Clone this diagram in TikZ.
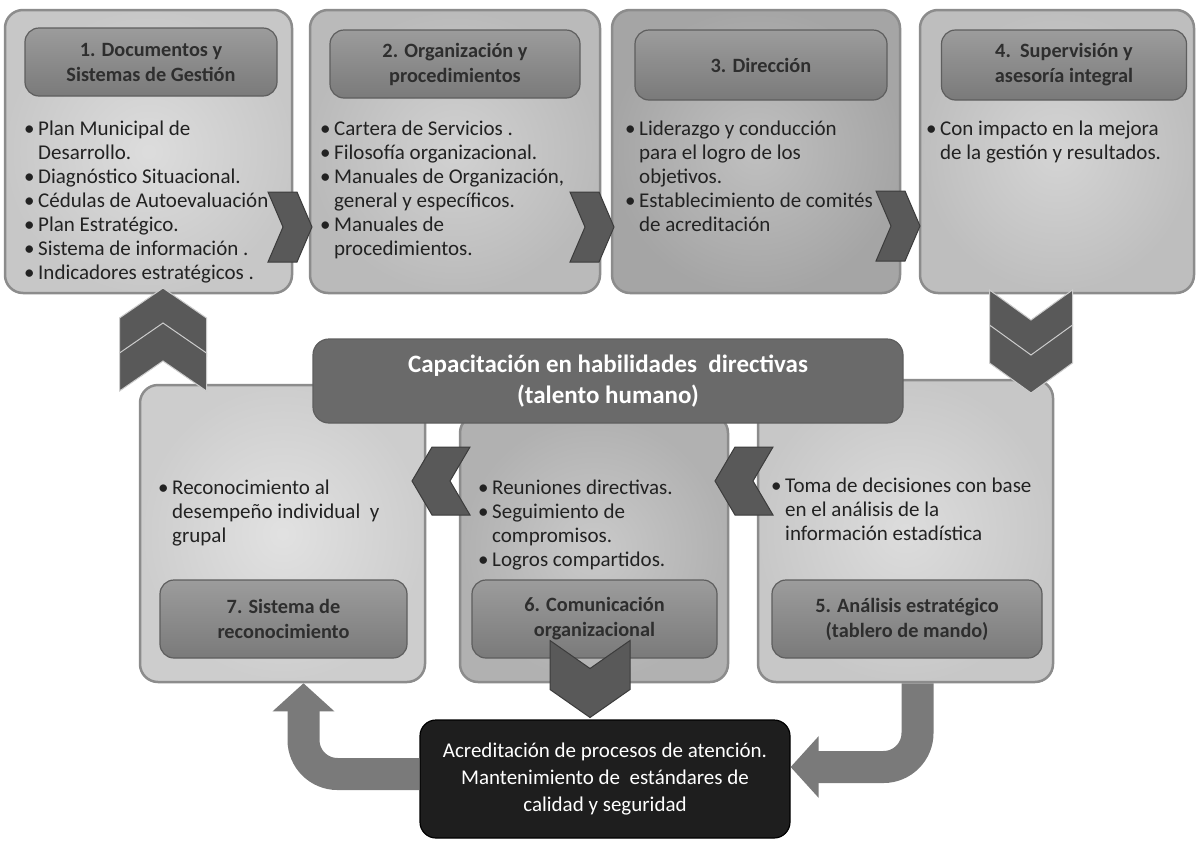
\documentclass[tikz,border=0pt]{standalone}
\usepackage{fontspec}
\setmainfont{Carlito}
\usetikzlibrary{arrows.meta,calc}

\definecolor{panelA}{HTML}{D4D4D4}
\definecolor{panelB}{HTML}{C6C6C6}
\definecolor{panelC}{HTML}{B0B0B0}
\definecolor{panelD}{HTML}{CACACA}
\definecolor{panelE}{HTML}{DADADA}
\definecolor{panelF}{HTML}{BCBCBC}
\definecolor{panelG}{HTML}{D4D4D4}
\definecolor{edgegray}{HTML}{8C8C8C}
\definecolor{headtop}{HTML}{9C9C9C}
\definecolor{headbot}{HTML}{7A7A7A}
\definecolor{headedge}{HTML}{5E5E5E}
\definecolor{headtext}{HTML}{2E2E2E}
\definecolor{bodytext}{HTML}{222222}
\definecolor{bannergray}{HTML}{6A6A6A}
\definecolor{chevgray}{HTML}{595959}
\definecolor{chevedge}{HTML}{3C3C3C}
\definecolor{arrowgray}{HTML}{7A7A7A}
\definecolor{accblack}{HTML}{1E1E1E}

\newcommand{\bul}{\strut\makebox[14pt][l]{\textbullet}}
\newcommand{\sig}{\strut\hspace*{14pt}}

\tikzset{
  chevlen/.store in=\chevlen, chevwid/.store in=\chevwid, chevcut/.store in=\chevcut,
  chevlen=44, chevwid=70, chevcut=15,
  chevron/.pic={
    \path[chev] (-\chevlen/2,-\chevwid/2) -- (\chevlen/2-\chevcut,-\chevwid/2)
      -- (\chevlen/2,0) -- (\chevlen/2-\chevcut,\chevwid/2)
      -- (-\chevlen/2,\chevwid/2) -- (-\chevlen/2+\chevcut,0) -- cycle;
  },
}

\begin{document}
\begin{tikzpicture}[x=1pt, y=-1pt,
  panel/.style={draw=edgegray, line width=2.5pt, rounded corners=18pt, inner sep=0pt,
    inner color=#1!80!white, outer color=#1!94!black},
  header/.style={draw=headedge, line width=1.2pt, rounded corners=14pt,
    top color=headtop, bottom color=headbot, inner sep=0pt, align=center,
    text=headtext, font=\fontsize{20.3}{25}\selectfont\bfseries},
  body/.style={anchor=north west, inner sep=0pt, align=left, text=bodytext,
    font=\fontsize{21}{24}\selectfont},
  chev/.style={fill=chevgray, draw=chevedge, line width=1pt},
  bigarrow/.style={draw=arrowgray, line width=32pt, rounded corners=34pt,
    -{Triangle[length=28pt, width=60pt]}},
]
  \useasboundingbox[fill=white] (0,0) rectangle (1197,844);

  % fila superior: pasos 1 a 4
  \node[panel=panelA, minimum width=287pt, minimum height=283pt] (p1) at (148.5,151.5) {};
  \node[panel=panelB, minimum width=290pt, minimum height=283pt] (p2) at (455,151.5) {};
  \node[panel=panelC, minimum width=288pt, minimum height=283pt] (p3) at (756,151.5) {};
  \node[panel=panelD, minimum width=274pt, minimum height=283pt] (p4) at (1057,151.5) {};

  \node[header, minimum width=252pt, minimum height=68pt] (h1) at (151,62) {1. Documentos y\\Sistemas de Gestión};
  \node[header, minimum width=250pt, minimum height=68pt] (h2) at (455,64) {2. Organización y\\procedimientos};
  \node[header, minimum width=252pt, minimum height=70pt] (h3) at (761,65) {3. Dirección};
  \node[header, minimum width=245pt, minimum height=70pt] (h4) at (1064,65) {4.\ \ Supervisión y\\asesoría integral};

  \node[body] (t1) at (24,118) {\bul Plan Municipal de\\\sig Desarrollo.\\\bul Diagnóstico Situacional.\\
    \bul Cédulas de Autoevaluación\\\bul Plan Estratégico.\\\bul Sistema de información .\\
    \bul Indicadores estratégicos .};
  \node[body] (t2) at (320,118) {\bul Cartera de Servicios .\\\bul Filosofía organizacional.\\
    \bul Manuales de Organización,\\\sig general y específicos.\\\bul Manuales de\\\sig procedimientos.};
  \node[body] (t3) at (625,118) {\bul Liderazgo y conducción\\\sig para el logro de los\\\sig objetivos.\\
    \bul Establecimiento de comités\\\sig de acreditación};
  \node[body] (t4) at (926,118) {\bul Con impacto en la mejora\\\sig de la gestión y resultados.};

  % fila inferior: pasos 7, 6 y 5
  \node[panel=panelE, minimum width=285pt, minimum height=297pt] (p7) at (282.5,533.5) {};
  \node[panel=panelF, minimum width=268pt, minimum height=267pt] (p6) at (594,548.5) {};
  \node[panel=panelG, minimum width=295pt, minimum height=302pt] (p5) at (905.5,531) {};

  \node[header, minimum width=247pt, minimum height=78pt] (h7) at (283.5,619) {7. Sistema de\\reconocimiento};
  \node[header, minimum width=245pt, minimum height=78pt] (h6) at (594.5,619) {6. Comunicación\\organizacional};
  \node[header, minimum width=270pt, minimum height=78pt] (h5) at (907,619) {5. Análisis estratégico\\(tablero de mando)};

  \node[body] (t7) at (158,477) {\bul Reconocimiento al\\\sig desempeño individual\ \ y\\\sig grupal};
  \node[body] (t6) at (478,477) {\bul Reuniones directivas.\\\bul Seguimiento de\\\sig compromisos.\\\bul Logros compartidos.};
  \node[body] (t5) at (771,475) {\bul Toma de decisiones con base\\\sig en el análisis de la\\\sig información estadística};

  % franja central
  \node[rounded corners=16pt, fill=bannergray, draw=headedge, line width=1.2pt,
    minimum width=590pt, minimum height=84pt, inner sep=0pt, align=center, text=white,
    font=\fontsize{25}{31}\selectfont\bfseries] (cap) at (608,381)
    {Capacitación en habilidades\ \ directivas\\(talento humano)};

  % flechas de paso (chevrones)
  \pic at (290,227) {chevron};
  \pic at (592,227) {chevron};
  \pic at (898,226) {chevron};
  \pic[rotate=-90, chevlen=68, chevwid=83, chevcut=30, chev/.append style={draw=white!80!black}] at (1031,324) {chevron};
  \pic[rotate=-90, chevlen=68, chevwid=83, chevcut=30, chev/.append style={draw=white!80!black}] at (1031,359) {chevron};
  \pic[rotate=90, chevlen=68, chevwid=87, chevcut=30, chev/.append style={draw=white!80!black}] at (163,322) {chevron};
  \pic[rotate=90, chevlen=68, chevwid=87, chevcut=30, chev/.append style={draw=white!80!black}] at (163,357) {chevron};
  \pic[rotate=180, chevlen=58, chevwid=68, chevcut=20] at (441,481) {chevron};
  \pic[rotate=180, chevlen=58, chevwid=68, chevcut=20] at (744,481) {chevron};

  % acreditacion
  \node[rounded corners=16pt, fill=accblack, draw=black, line width=1.2pt,
    minimum width=370pt, minimum height=118pt, inner sep=0pt, align=center, text=white,
    font=\fontsize{21}{27}\selectfont] (acc) at (605,779)
    {Acreditación de procesos de atención.\\Mantenimiento de\ \ estándares de\\calidad y seguridad};

  \draw[bigarrow] ([xshift=12pt]p5.south) |- ([yshift=12pt]acc.east);
  \draw[bigarrow] ([yshift=5pt]acc.west) -| ([xshift=21pt]p7.south);
  \pic[rotate=-90, chevlen=77, chevwid=80, chevcut=28] at (590,679) {chevron};
\end{tikzpicture}
\end{document}
